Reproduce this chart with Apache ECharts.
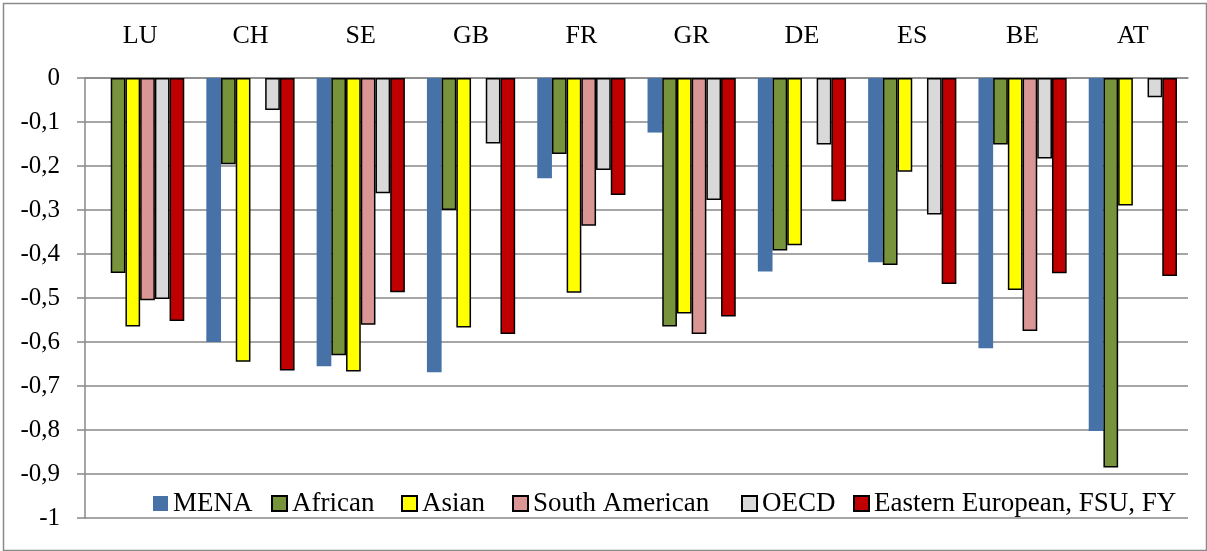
<!DOCTYPE html>
<html>
<head>
<meta charset="utf-8">
<script src="https://cdn.jsdelivr.net/npm/echarts@6/dist/echarts.min.js"></script>
<style>
html,body{margin:0;padding:0;background:#fff;}
#chart{width:1207px;height:551px;}
</style>
</head>
<body>
<div id="chart"></div>
<script>
var categories = ['LU','CH','SE','GB','FR','GR','DE','ES','BE','AT'];
var mena      = [null, -0.600, -0.655, -0.669, -0.228, -0.124, -0.440, -0.419, -0.614, -0.802];
var african   = [-0.443, -0.196, -0.630, -0.300, -0.173, -0.565, -0.392, -0.425, -0.151, -0.885];
var asian     = [-0.565, -0.645, -0.667, -0.567, -0.488, -0.535, -0.380, -0.213, -0.482, -0.290];
var southAm   = [-0.505, null, -0.561, null, -0.336, -0.582, null, null, -0.575, null];
var oecd      = [-0.502, -0.073, -0.262, -0.149, -0.209, -0.277, -0.151, -0.310, -0.183, -0.044];
var eastern   = [-0.552, -0.665, -0.487, -0.582, -0.266, -0.542, -0.280, -0.468, -0.444, -0.450];
var seriesNames = ['MENA','African','Asian','South American','OECD','Eastern European, FSU, FY'];

var FONT = '"Liberation Serif", serif';
var chart = echarts.init(document.getElementById('chart'), null, {renderer:'canvas'});

function bar(name, data, color, border) {
  return {
    name: name, type: 'bar', data: data,
    barGap: '0%', barCategoryGap: '20%',
    itemStyle: {color: color, borderColor: '#000', borderWidth: border ? 1.5 : 0},
    emphasis: {disabled: true}
  };
}

var legendLefts = [153, 271, 401, 512, 741, 853];
var legends = seriesNames.map(function (n, i) {
  return {
    left: legendLefts[i], top: 490, padding: 0,
    itemWidth: 15, itemHeight: 15, itemGap: 0,
    icon: 'rect',
    textStyle: {fontFamily: FONT, fontSize: 27, color: '#000'},
    data: [n]
  };
});

chart.setOption({
  animation: false,
  backgroundColor: '#fff',
  graphic: [{
    type: 'rect', left: 1, top: 1, silent: true,
    shape: {x: 1.5, y: 1.5, width: 1203, height: 547},
    style: {fill: 'none', stroke: '#8a8a8a', lineWidth: 1.5}
  }],
  grid: {left: 85, right: 19, top: 78, bottom: 33, containLabel: false},
  legend: legends,
  xAxis: {
    type: 'category', position: 'top', data: categories,
    axisLine: {show: true, onZero: false, lineStyle: {color: '#888', width: 1.5}},
    axisTick: {show: false},
    axisLabel: {fontFamily: FONT, fontSize: 26, color: '#000', margin: 29}
  },
  yAxis: {
    type: 'value', min: -1, max: 0, interval: 0.1,
    axisLine: {show: true, lineStyle: {color: '#888', width: 1.5}},
    axisTick: {show: true, inside: false, length: 8, lineStyle: {color: '#888', width: 1.5}},
    splitLine: {show: true, lineStyle: {color: '#888', width: 1.5}},
    axisLabel: {
      fontFamily: FONT, fontSize: 25, color: '#000', margin: 25,
      formatter: function (v) {
        var r = Math.round(v * 10) / 10;
        if (r === 0) return '0';
        if (r === -1) return '-1';
        return r.toFixed(1).replace('.', ',');
      }
    }
  },
  series: [
    bar(seriesNames[0], mena, '#4672a8', false),
    bar(seriesNames[1], african, '#77933c', true),
    bar(seriesNames[2], asian, '#ffff00', true),
    bar(seriesNames[3], southAm, '#d99694', true),
    bar(seriesNames[4], oecd, '#d9d9d9', true),
    bar(seriesNames[5], eastern, '#c00000', true)
  ]
});
</script>
</body>
</html>
